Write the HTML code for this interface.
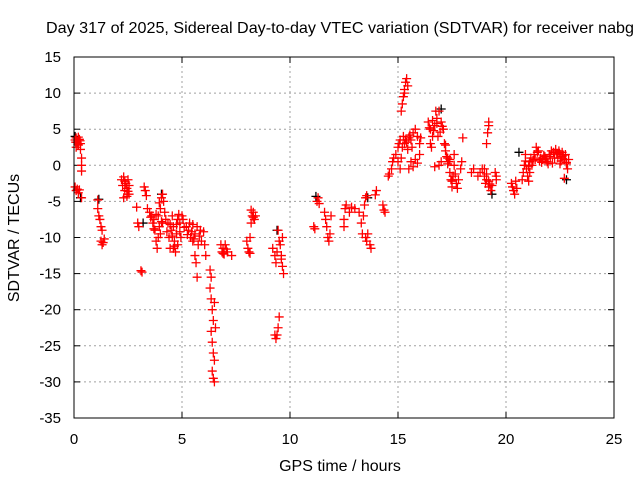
<!DOCTYPE html>
<html><head><meta charset="utf-8"><style>
body{margin:0;background:#fff;}
svg{display:block;font-family:"Liberation Sans",Arial,sans-serif;}
</style></head><body>
<svg id="chart" width="640" height="480" xmlns="http://www.w3.org/2000/svg">
<rect width="640" height="480" fill="#fff"/>
<text x="340" y="33" font-size="16" text-anchor="middle" textLength="588" lengthAdjust="spacingAndGlyphs">Day 317 of 2025, Sidereal Day-to-day VTEC variation (SDTVAR) for receiver nabg</text>
<text transform="translate(19,238) rotate(-90)" font-size="16" text-anchor="middle">SDTVAR / TECUs</text>
<text x="340" y="471" font-size="16" text-anchor="middle">GPS time / hours</text>
<g id="grid"></g><g id="ticks"></g><g id="black"></g><g id="red"></g>
<rect x="74" y="57" width="540" height="361" fill="none" stroke="#000" stroke-width="1"/>
</svg>
<script>
const xTicks=[0,5,10,15,20,25];
const yTicks=[15,10,5,0,-5,-10,-15,-20,-25,-30,-35];
const hours=[0.05,0.1,0.15,0.2,0.25,0.3,0.1,0.2,0.3,0.35,0.35,0.35,0.05,0.1,0.15,0.2,0.25,0.35,
1.1,1.1,1.15,1.2,1.25,1.3,1.25,1.3,1.35,1.4,
2.2,2.25,2.3,2.35,2.4,2.45,2.5,2.55,2.45,2.3,2.55,
2.9,2.95,3.0,3.1,3.15,3.3,3.35,3.25,3.4,
3.5,3.6,3.7,3.75,3.8,3.85,3.9,3.95,4.0,4.05,4.1,4.15,4.2,4.25,3.65,3.9,4.0,4.1,
4.35,4.4,4.45,4.5,4.55,4.6,4.65,4.7,4.75,4.8,4.85,4.9,4.95,5.0,5.05,4.6,4.8,
5.2,5.3,5.4,5.5,5.6,5.7,5.8,5.9,6.0,5.5,5.35,5.75,5.6,5.65,5.7,6.05,6.1,
6.3,6.35,6.3,6.35,6.4,6.45,6.35,6.4,6.45,6.5,6.4,6.45,6.5,6.55,6.5,
6.8,6.85,6.9,6.95,7.0,7.1,7.3,
8.0,8.05,8.1,8.15,8.2,8.25,8.3,8.35,8.4,8.2,8.15,
9.2,9.3,9.35,9.4,9.45,9.5,9.55,9.6,9.65,9.7,9.6,9.65,9.3,9.35,9.4,9.45,9.5,
11.1,11.15,11.25,11.3,11.35,11.6,11.65,11.7,11.75,11.8,11.85,11.9,
12.5,12.55,12.6,12.75,12.85,13.0,12.5,
13.2,13.3,13.35,13.4,13.45,13.5,13.55,13.6,13.7,13.75,13.5,13.55,13.95,14.0,
14.3,14.35,14.4,14.55,14.6,14.7,14.75,14.8,14.9,15.0,15.05,15.1,15.2,15.25,15.3,15.35,15.15,15.0,15.1,
15.2,15.25,15.3,15.35,15.4,15.45,15.3,15.15,
15.5,15.6,15.7,15.8,15.9,16.0,15.6,15.7,15.8,15.9,16.0,15.65,16.05,
16.4,16.5,16.6,16.7,16.8,16.9,17.0,17.1,16.75,16.85,16.5,16.55,16.7,16.9,17.0,
17.15,17.2,17.3,17.35,17.4,17.45,17.5,17.55,17.6,17.7,17.75,17.8,17.6,17.9,17.95,18.0,
18.4,18.5,18.7,18.8,18.9,19.0,19.05,19.1,19.2,19.3,19.35,19.1,19.15,19.2,19.2,19.5,19.55,19.55,
20.25,20.3,20.35,20.4,20.5,20.45,
20.75,20.8,20.85,20.9,21.0,21.1,21.15,21.2,21.3,21.4,21.5,21.6,21.7,21.8,21.9,22.0,22.1,22.2,22.3,22.4,22.5,22.6,22.7,22.75,22.8,22.85,22.7,21.05,21.25,22.15,22.5,22.9,
0.08,0.18,0.28,2.35,2.5,3.55,3.7,3.8,3.95,4.05,4.3,4.45,4.55,4.65,4.75,4.9,5.1,5.25,5.45,5.55,5.85,6.9,7.05,8.3,
15.4,15.5,15.55,15.45,16.45,16.6,16.65,16.8,16.95,17.05,17.2,17.3,17.4,17.5,17.65,17.25,
19.0,19.1,19.2,19.25,20.95,21.05,21.35,21.45,21.55,21.65,21.75,21.85,21.95,22.05,22.25,22.35,22.45,22.55,22.65,22.8,22.6,22.4,21.1,20.9];
const sdtvar=[3.5,3.8,3.2,2.8,3.6,3.0,2.5,3.9,2.2,1.0,0,-0.8,-3.0,-3.5,-3.3,-3.8,-3.4,-4.5,
-4.8,-6,-7,-7.5,-8.5,-9,-10.5,-11,-10.7,-10.2,
-2,-2.8,-1.6,-3.5,-2.5,-3.2,-2,-4,-4.3,-4.5,-2.8,
-5.8,-8,-8.5,-14.6,-14.8,-3.5,-4.2,-3.0,-6,
-6.5,-7,-7.5,-9,-10.5,-11.5,-10,-8.5,-6,-4.5,-4,-5,-6.5,-7.5,-8,-7,-9.5,-8,
-8,-10,-11.5,-9,-7,-8.5,-10.5,-12,-9.5,-7.5,-6.8,-8,-10,-7,-7.5,-11.5,-11,
-8.5,-9,-10,-8.2,-9.5,-8.5,-9.8,-10.5,-9.2,-10.5,-8,-11,-12.5,-13.5,-15.5,-11,-12.5,
-14.5,-15.5,-17,-18.5,-20,-21.5,-23,-24.5,-26,-27,-28.5,-29.5,-30,-22.5,-19,
-11,-12,-11.5,-12.3,-11,-12,-12.5,
-10.5,-11.5,-12,-10,-8,-7,-6.5,-7.5,-7,-6.2,-12.2,
-11.5,-12.5,-13.5,-12,-9,-10.5,-11,-12.5,-14,-15,-13,-10,-23.5,-24,-23.5,-22.5,-21,
-8.5,-8.8,-5,-4.5,-5.3,-6.5,-7.5,-8.5,-10,-10.5,-9.5,-7,
-7.5,-6,-5.5,-6.5,-5.8,-6,-8.5,
-6.5,-8,-9.5,-7,-5.5,-10,-10.5,-9.5,-11,-11.5,-4.5,-4.2,-4.1,-3.5,
-5.5,-6.2,-6.5,-1.5,-1.2,-0.5,0.5,1,1.5,2.5,3,3.5,2.5,4,3,3.5,1,0.5,-0.5,
8.5,9.5,10.5,11.5,12,11,10,7.5,
-0.5,0.5,-0.2,0.8,0.3,1.5,3.5,4.5,5,4,3,2.5,3.8,
6,5,4,5.5,6.5,7.5,6,5,7.5,4,3,2.5,-0.2,0,0.5,
3,2,1,0.5,-1,-2,-3,-1.5,0,-2.5,-3.2,-2,1.5,-0.5,0.5,3.8,
-1,-0.5,-1.5,-1,-0.5,-1.5,-2.5,-2,-3,-3.5,-2.8,3,4.5,5.5,6,-1,-1.5,-2,
-2.5,-3,-3.5,-4,-3.2,-2.2,
-2,-1,0,1.5,-1.5,0.5,1,0,1.5,2.5,2,1,0.8,1.2,0.5,1.5,2,1.8,2.2,1,1.5,1.2,0.8,1.5,0.2,-0.5,-1.8,-2.2,0.7,0.3,0.2,0.8,
3.2,2.9,3.4,-2.2,-3.6,-7.2,-8.8,-6.8,-5.2,-7.8,-9.2,-8.2,-9.8,-11.2,-8.2,-9.2,-8.6,-9.6,-9.2,-10.2,-9.0,-12.2,-11.6,-7.2,
3.2,3.8,4.2,2.2,5.2,6.2,4.8,5.8,4.6,5.4,2.8,0.2,0.8,-2.2,-1.2,1.2,
-0.5,-1.2,-2.2,-2.6,-0.5,-0.2,0.8,1.8,0.6,0.4,1.4,0.9,0.2,1.2,1.0,1.6,2.0,0.6,1.4,0.4,1.8,1.6,-1.0,0.6];
const blackHours=[0.3,9.4,13.6,20.6,22.8,19.35,11.2,4.05,1.15,3.2,0.05,17.0];
const blackVals=[-4.5,-9,-4.5,1.8,-2,-4,-4.3,-4,-4.7,-8,4,7.8];

const NS='http://www.w3.org/2000/svg';
const X0=74,X1=614,Y0=418,Y1=57,xmin=0,xmax=25,ymin=-35,ymax=15;
function sx(v){return X0+(v-xmin)/(xmax-xmin)*(X1-X0);}
function sy(v){return Y0-(v-ymin)/(ymax-ymin)*(Y0-Y1);}
function mk(tag,attrs,parent){const e=document.createElementNS(NS,tag);for(const k in attrs)e.setAttribute(k,attrs[k]);parent.appendChild(e);return e;}
const grid=document.getElementById('grid'),ticks=document.getElementById('ticks');
xTicks.forEach(t=>{const x=sx(t);
 if(t>xmin&&t<xmax){const g=mk('line',{x1:x,x2:x,y1:Y0,y2:Y1,stroke:'#a0a0a0','stroke-dasharray':'2,3'},grid);
 
 }
 mk('line',{x1:x,x2:x,y1:Y0,y2:Y0-6,stroke:'#000'},ticks);
 mk('line',{x1:x,x2:x,y1:Y1,y2:Y1+6,stroke:'#000'},ticks);
 const l=mk('text',{x:x,y:444,'font-size':15,'text-anchor':'middle'},ticks);l.textContent=t;
 
 
});
yTicks.forEach(t=>{const y=sy(t);
 if(t>ymin&&t<ymax){const g=mk('line',{x1:X0,x2:X1,y1:y,y2:y,stroke:'#a0a0a0','stroke-dasharray':'2,3'},grid);
 
 }
 mk('line',{x1:X0,x2:X0+6,y1:y,y2:y,stroke:'#000'},ticks);
 mk('line',{x1:X1,x2:X1-6,y1:y,y2:y,stroke:'#000'},ticks);
 const l=mk('text',{x:61,y:y+5,'font-size':15,'text-anchor':'end'},ticks);l.textContent=t;
 
 
});
function plus(g,h,v,color){const x=sx(h),y=sy(v),s=4.5;
 const p=mk('path',{d:`M${x-s},${y}H${x+s}M${x},${y-s}V${y+s}`,stroke:color,'stroke-width':1.3,fill:'none'},g);
 return p;}
const bg=document.getElementById('black');
blackHours.forEach((h,i)=>{const p=plus(bg,h,blackVals[i],'#000');
 
 });
const rg=document.getElementById('red');
hours.forEach((h,i)=>{const p=plus(rg,h,sdtvar[i],'#ff0000');
 
 });
</script>
</body></html>
